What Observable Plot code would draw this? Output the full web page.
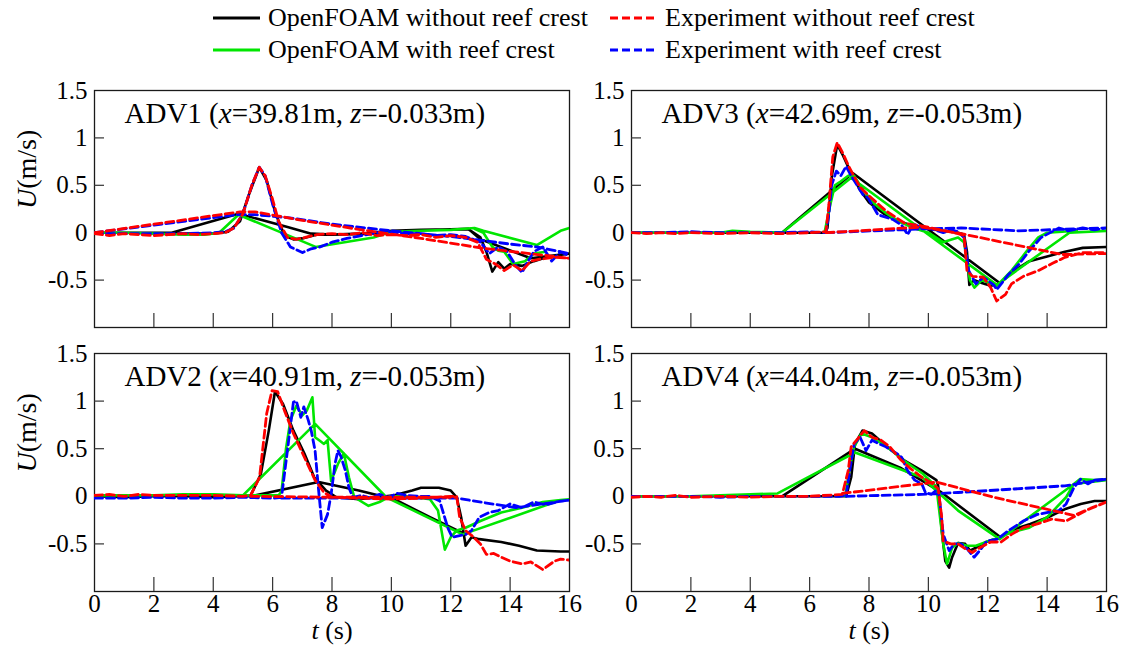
<!DOCTYPE html>
<html><head><meta charset="utf-8">
<script src="https://cdn.jsdelivr.net/npm/d3@7"></script>
<script src="https://cdn.jsdelivr.net/npm/@observablehq/plot@0.6"></script>
<style>
html,body{margin:0;padding:0;background:#fff;}
#root{position:relative;width:1126px;height:655px;overflow:hidden;background:#fff;font-family:"Liberation Serif","Times New Roman",serif;}
.panel{position:absolute;}
.leg{position:absolute;font-size:26px;line-height:1;white-space:nowrap;color:#000;transform:translateY(-50%);display:flex;align-items:center;}
.leg svg{margin-right:8px;}
</style></head><body><div id="root"></div>
<script>
// ---------- tick values ----------
const xTickValues = [0, 2, 4, 6, 8, 10, 12, 14, 16];
const xInnerTicks = [2, 4, 6, 8, 10, 12, 14];
const yTickValues = [-0.5, 0, 0.5, 1, 1.5];
const yInnerTicks = [-0.5, 0, 0.5, 1];

// ---------- legend / series ----------
const seriesKeys   = ["black", "green", "blue", "red"];
const seriesLabels = {black: "OpenFOAM without reef crest", red: "Experiment without reef crest",
                      green: "OpenFOAM with reef crest", blue: "Experiment with reef crest"};

// ---------- panel titles ----------
const panelTitles = ["ADV1 (*x*=39.81m, *z*=-0.033m)", "ADV3 (*x*=42.69m, *z*=-0.053m)",
                     "ADV2 (*x*=40.91m, *z*=-0.053m)", "ADV4 (*x*=44.04m, *z*=-0.053m)"];

// ---------- data: [t (s), U (m/s)], null = break ----------
const adv1Black = [[0,0],[2.6,0],[4.85,0.2],[6.5,0.06],[7.3,-0.01],[8,-0.02],[9.5,-0.01],[10,0.02],[11,0.03],[12,0.035],[12.6,0.04],[13,-0.07],[14.7,-0.27],[16,-0.22],null,
  [0,0],[1,0],[2,0],[3,-0.01],[4,-0.01],[4.5,0.01],[4.9,0.12],[5.2,0.4],[5.55,0.69],[5.8,0.55],[6.1,0.2],[6.4,-0.03],[6.7,-0.07],[7,-0.06],[7.5,-0.02],[8,-0.02],[9,-0.01],[10,0.02],[12,0.035],[12.6,0.035],[13.0,-0.05],[13.2,-0.2],[13.4,-0.41],[13.6,-0.31],[13.8,-0.38],[14.0,-0.33],[14.4,-0.35],[14.8,-0.3],[15.3,-0.25],[16,-0.22]];
const adv1Green = [[0,0],[1,0],[2,-0.01],[3,-0.02],[3.7,-0.02],[4.2,0],[4.85,0.19],[7.45,-0.15],[9.4,-0.05],[10,0.01],[11,0.02],[12,0.03],[12.8,0.05],[13.1,0.02],[14.9,-0.13],[15.7,0.02],[16,0.05],null,
  [12.8,0.04],[13.1,0],[13.4,-0.15],[13.6,-0.19],[13.8,-0.2],[14.1,-0.33],[14.5,-0.3],[14.8,-0.22],[15.2,-0.2]];
const adv1Blue = [[0,-0.01],[1,-0.01],[2,-0.01],[3,-0.01],[4,0],[4.4,0.01],[4.7,0.05],[5.0,0.2],[5.3,0.5],[5.55,0.69],[5.75,0.6],[6.0,0.3],[6.3,0.0],[6.6,-0.15],[7.0,-0.21],[7.3,-0.17],[7.6,-0.15],[8.0,-0.1],[8.5,-0.06],[9,-0.03],[9.5,0],[10,0.01],[10.5,-0.01],[11,-0.01],[11.5,-0.03],[12,-0.02],[12.5,-0.04],[13,-0.1],[13.3,-0.22],[13.6,-0.15],[13.9,-0.2],[14.2,-0.35],[14.4,-0.42],[14.6,-0.3],[14.8,-0.2],[15.1,-0.15],[15.4,-0.3],[15.7,-0.2],[16,-0.25],null,
  [0,0],[4.8,0.19],[5.4,0.19],[6.5,0.16],[8,0.09],[10,0.02],[12,-0.04],[14,-0.12],[14.9,-0.15],[16,-0.22]];
const adv1Red = [[0,-0.01],[0.5,-0.03],[1,-0.01],[1.5,-0.02],[2,-0.03],[2.5,-0.02],[3,-0.01],[3.5,-0.02],[4,-0.01],[4.4,0],[4.7,0.05],[5.0,0.2],[5.3,0.5],[5.55,0.69],[5.75,0.6],[6.0,0.35],[6.2,0.12],[6.5,-0.05],[6.8,-0.07],[7.1,-0.05],[7.5,-0.02],[8,-0.01],[8.5,-0.02],[9,0],[9.5,-0.03],[10,-0.02],[10.5,-0.03],[11,-0.02],[11.5,-0.05],[12,-0.03],[12.5,-0.05],[12.9,-0.1],[13.2,-0.28],[13.5,-0.33],[13.8,-0.4],[14.1,-0.34],[14.4,-0.4],[14.7,-0.3],[15,-0.28],[15.5,-0.26],[16,-0.27],null,
  [0,0],[4.9,0.22],[5.4,0.22],[7,0.13],[9,0.03],[11,-0.06],[13,-0.16],[16,-0.27]];

const adv3Black = [[0,0],[5.07,0],[7.45,0.63],[12.4,-0.53],null,
  [0,0],[6.5,0],[6.6,0.05],[6.75,0.6],[6.93,0.93],[7.1,0.83],[7.35,0.66],[7.7,0.45],[8.0,0.32],[8.5,0.2],[9,0.12],[9.5,0.07],[10,0.04],[10.5,0.02],[11,0],[11.2,-0.02],[11.3,-0.2],[11.38,-0.55],[11.55,-0.5],[11.8,-0.53],[12.1,-0.56],[12.4,-0.54],[12.8,-0.42],[13.4,-0.3],[14,-0.25],[14.6,-0.2],[15.2,-0.16],[16,-0.15]];
const adv3Green = [[0,0],[3,0],[3.4,0.02],[4,0.01],[5.07,0],[7.4,0.58],[12.3,-0.55],[14.75,0],[16,0.02],null,
  [6.5,0],[6.7,0.3],[6.85,0.5],[7.0,0.53],[7.3,0.6],[7.5,0.6],[7.8,0.45],[8.2,0.3],[8.6,0.2],[9.0,0.12],[9.5,0.05],[10,0],[10.5,-0.1],[10.7,-0.08],[11,-0.05],[11.2,-0.1],[11.4,-0.5],[11.55,-0.58],[11.8,-0.5],[12.3,-0.56],[12.8,-0.4],[13.3,-0.2],[13.7,-0.05],[14,0],[15,0.02]];
const adv3Blue = [[0,0],[1,0],[2,0.01],[3,0],[4,0],[5,0],[6,0.01],[6.55,0],[6.65,0.2],[6.74,0.5],[6.9,0.65],[7.05,0.6],[7.23,0.7],[7.4,0.6],[7.6,0.5],[7.8,0.4],[7.96,0.37],[8.3,0.19],[8.8,0.14],[9.1,0.08],[9.3,-0.02],[9.5,0.09],[9.8,0.05],[10.1,0.04],[10.5,0],[10.75,0.03],[11,0.01],[11.2,-0.05],[11.36,-0.4],[11.6,-0.54],[11.85,-0.47],[12.2,-0.55],[12.3,-0.6],[12.7,-0.44],[13.06,-0.33],[13.4,-0.19],[13.8,-0.05],[14.4,0.05],[14.7,0.02],[15.2,0.05],[15.6,0.03],[16,0.05],null,
  [6.55,0],[9.8,0.04],[11.1,0.05],[13,0.02],[16,0.05]];
const adv3Red = [[0,0],[0.5,-0.01],[1,0],[1.5,-0.01],[2,0],[3,-0.01],[4,0],[5,-0.01],[6,0],[6.55,0.01],[6.65,0.3],[6.78,0.8],[6.93,0.95],[7.1,0.85],[7.35,0.68],[7.7,0.48],[7.96,0.4],[8.57,0.23],[9.2,0.1],[9.8,0.07],[10.4,0.03],[11,-0.01],[11.2,-0.03],[11.3,-0.4],[11.48,-0.46],[11.85,-0.47],[12.1,-0.58],[12.3,-0.72],[12.6,-0.65],[12.8,-0.54],[13.2,-0.46],[13.7,-0.4],[14.2,-0.32],[14.6,-0.26],[15.2,-0.21],[16,-0.21],null,
  [6.55,0],[9.8,0.06],[11.1,-0.01],[14.5,-0.23],[16,-0.22]];

const adv2Black = [[0,0],[5.26,0],[7.55,0.15],[8.9,0.06],[10.1,-0.03],[11.3,-0.22],[12.5,-0.4],null,
  [0,0],[1,-0.01],[2,0],[3,0],[4,-0.01],[5,0],[5.26,0.01],[5.6,0.23],[5.87,0.69],[6.08,1.1],[6.35,0.97],[6.7,0.69],[7.07,0.45],[7.4,0.2],[7.8,0.06],[8.15,-0.01],[8.9,-0.03],[9.5,-0.01],[10.1,0.01],[10.7,0.06],[11.0,0.09],[11.6,0.09],[12,0.06],[12.2,-0.01],[12.35,-0.22],[12.5,-0.52],[12.7,-0.43],[12.96,-0.45],[13.7,-0.48],[14.3,-0.52],[14.9,-0.57],[15.7,-0.58],[16,-0.58]];
const adv2Green = [[0,0.01],[2,0.01],[3,0.02],[4,0.02],[5,0.01],[7.43,0.76],[9.83,-0.01],[12.4,-0.4],[15.7,-0.04],[16,-0.03],null,
  [5,0.01],[6.2,0.01],[6.3,0.05],[6.45,0.5],[6.6,0.8],[6.8,0.95],[7.0,0.85],[7.15,0.9],[7.34,1.04],[7.43,0.62],[7.6,0.58],[7.73,0.55],[7.85,0.59],[7.97,0.16],[8.2,0.34],[8.4,0.45],[8.57,0.2],[8.75,-0.01],[9.23,-0.1],[9.6,-0.06],[9.95,0],[10.5,0.0],[11.3,-0.03],[11.57,-0.15],[11.8,-0.56],[12,-0.43],[12.2,-0.36],[12.5,-0.33],[13,-0.26],[13.7,-0.17],[14.4,-0.12],[15.1,-0.06],[15.7,-0.04]];
const adv2Blue = [[0,-0.02],[1,-0.02],[2,-0.01],[3,-0.02],[4,-0.02],[5,-0.01],[6,-0.02],[6.3,-0.01],[6.47,0.41],[6.7,0.99],[6.8,1.0],[6.95,0.83],[7.05,0.94],[7.2,0.8],[7.3,0.69],[7.43,0.48],[7.55,0.06],[7.67,-0.33],[7.85,-0.19],[7.97,0.02],[8.1,0.34],[8.2,0.48],[8.3,0.42],[8.45,0.27],[8.57,0.09],[8.7,-0.01],[9,0.01],[9.3,-0.02],[9.6,0.02],[9.9,-0.01],[10.2,0.03],[10.5,0.01],[11,0],[11.3,0.0],[11.63,-0.05],[11.9,-0.33],[12.05,-0.43],[12.5,-0.4],[12.7,-0.36],[12.96,-0.22],[13.3,-0.17],[13.6,-0.15],[14,-0.08],[14.4,-0.12],[14.8,-0.06],[15.2,-0.09],[15.7,-0.05],[16,-0.04],null,
  [6.3,-0.02],[12.2,-0.02],[14.2,-0.12],[16,-0.04]];
const adv2Red = [[0,0.01],[0.5,0.02],[1,0],[1.5,0.02],[2,0.01],[3,0.01],[4,0.01],[5,0],[5.26,0.01],[5.56,0.2],[5.8,0.87],[5.98,1.11],[6.17,1.1],[6.4,0.9],[6.7,0.66],[7.07,0.41],[7.43,0.17],[7.73,0.04],[8.0,-0.01],[9,-0.02],[10,-0.03],[11,-0.02],[12,0],[12.2,0],[12.3,-0.22],[12.5,-0.36],[12.7,-0.41],[13,-0.5],[13.2,-0.61],[13.45,-0.6],[13.7,-0.64],[14,-0.68],[14.4,-0.71],[14.7,-0.69],[15.1,-0.77],[15.5,-0.68],[15.7,-0.66],[16,-0.67],null,
  [5.26,0],[8,-0.01],[12.2,-0.01]];

const adv4Black = [[0,0],[5.07,0],[7.53,0.5],[9.05,0.3],[10.4,0.05],[12.43,-0.43],null,
  [0,0],[7.23,0],[7.4,0.2],[7.53,0.55],[7.78,0.69],[8.1,0.66],[8.57,0.53],[9.17,0.38],[9.78,0.27],[10.27,0.17],[10.33,0.11],[10.45,-0.36],[10.57,-0.68],[10.7,-0.75],[10.8,-0.64],[11,-0.49],[11.24,-0.5],[11.4,-0.57],[11.6,-0.54],[11.95,-0.48],[12.45,-0.43],[12.94,-0.34],[13.43,-0.29],[14.03,-0.22],[14.64,-0.13],[15.13,-0.08],[15.6,-0.05],[16,-0.05]];
const adv4Green = [[0,0],[2,0],[4,0.02],[4.92,0.03],[7.53,0.46],[9.78,0.2],[11,-0.15],[12.4,-0.45],[14.9,0.13],[16,0.17],null,
  [7.2,0],[7.35,0.3],[7.5,0.52],[7.75,0.66],[8.1,0.62],[8.6,0.52],[9.2,0.37],[9.8,0.24],[10.27,0.1],[10.5,-0.5],[10.63,-0.71],[10.8,-0.54],[11,-0.49],[11.3,-0.52],[11.6,-0.52],[12.2,-0.45],[12.8,-0.38],[13.4,-0.33],[14,-0.22],[14.64,-0.01],[14.9,0.13],[15.1,0.18],[15.6,0.17],[16,0.18]];
const adv4Blue = [[0,0],[1,0],[2,0],[3,-0.01],[4,0],[5,0],[6,0],[7,0],[7.23,0.01],[7.35,0.27],[7.5,0.55],[7.7,0.62],[7.9,0.48],[8.1,0.59],[8.35,0.55],[8.57,0.52],[8.93,0.45],[9.1,0.41],[9.3,0.27],[9.54,0.17],[9.78,0.13],[9.9,0.04],[10.1,0.02],[10.33,0.08],[10.4,-0.1],[10.5,-0.4],[10.7,-0.57],[10.87,-0.5],[11.1,-0.5],[11.3,-0.55],[11.54,-0.64],[11.73,-0.57],[11.97,-0.47],[12.33,-0.45],[12.7,-0.36],[13.2,-0.26],[13.67,-0.19],[14.03,-0.17],[14.4,-0.15],[14.64,-0.08],[14.9,0.09],[15.13,0.18],[15.37,0.13],[15.6,0.17],[16,0.18],null,
  [7.23,0],[9.78,0.02],[11,0.04],[14.6,0.11],[16,0.18]];
const adv4Red = [[0,-0.01],[0.5,0],[1,-0.01],[1.5,0.01],[2,-0.01],[3,0],[4,-0.01],[5,0],[6,0],[7.1,0.02],[7.3,0.27],[7.4,0.52],[7.66,0.62],[7.84,0.69],[8.1,0.62],[8.4,0.59],[8.7,0.52],[9.05,0.39],[9.4,0.29],[9.78,0.2],[10.15,0.13],[10.33,0.08],[10.45,-0.22],[10.5,-0.47],[10.75,-0.5],[11,-0.5],[11.24,-0.55],[11.48,-0.59],[11.73,-0.54],[12.1,-0.48],[12.45,-0.48],[12.8,-0.4],[13.2,-0.33],[13.67,-0.29],[14.15,-0.24],[14.64,-0.26],[15,-0.2],[15.5,-0.12],[16,-0.06],null,
  [7.1,0.03],[10.27,0.15],[12.2,-0.01],[14.9,-0.2],[16,-0.06]];

// ---------- styling ----------
const seriesStyle = {
  black: {stroke: "#000000", dash: null},
  green: {stroke: "#00e600", dash: null},
  blue:  {stroke: "#0000ff", dash: "8,4"},
  red:   {stroke: "#ff0000", dash: "8,4"}
};

const panels = [
  {title: panelTitles[0], data: {black: adv1Black, green: adv1Green, blue: adv1Blue, red: adv1Red}, left: 0,   top: 70,  w: 580, h: 270, ml: 94, mr: 11, mt: 20, mb: 13, isLeft: true,  isBottom: false},
  {title: panelTitles[1], data: {black: adv3Black, green: adv3Green, blue: adv3Blue, red: adv3Red}, left: 563, top: 70,  w: 563, h: 270, ml: 68, mr: 20, mt: 20, mb: 13, isLeft: false, isBottom: false},
  {title: panelTitles[2], data: {black: adv2Black, green: adv2Green, blue: adv2Blue, red: adv2Red}, left: 0,   top: 340, w: 580, h: 315, ml: 94, mr: 11, mt: 13, mb: 64, isLeft: true,  isBottom: true},
  {title: panelTitles[3], data: {black: adv4Black, green: adv4Green, blue: adv4Blue, red: adv4Red}, left: 563, top: 340, w: 563, h: 315, ml: 68, mr: 20, mt: 13, mb: 64, isLeft: false, isBottom: true}
];

const toRows = arr => arr.map(p => p ? {t: p[0], u: p[1]} : {t: NaN, u: NaN});

function italicize(svg) {
  const ns = "http://www.w3.org/2000/svg";
  d3.select(svg).selectAll("text").each(function () {
    const txt = this.textContent;
    if (!txt.includes("*")) return;
    const parts = txt.split("*");
    while (this.firstChild) this.removeChild(this.firstChild);
    parts.forEach((p, i) => {
      if (!p) return;
      const ts = document.createElementNS(ns, "tspan");
      ts.textContent = p;
      if (i % 2) ts.setAttribute("font-style", "italic");
      this.appendChild(ts);
    });
  });
}

const root = document.getElementById("root");

panels.forEach(cfg => {
  const marks = [
    Plot.frame({stroke: "#1a1a1a", strokeWidth: 1.3}),
    Plot.axisX({ticks: xInnerTicks, tickSize: -14, tickFormat: () => "", strokeWidth: 1.2, stroke: "#333"}),
    Plot.axisY({ticks: yInnerTicks, tickSize: -10, tickFormat: () => "", strokeWidth: 1.2, stroke: "#333"}),
    Plot.axisY({ticks: yTickValues, tickSize: 0, tickPadding: 7, tickFormat: d => String(d), fontSize: 25})
  ];
  if (cfg.isBottom) {
    marks.push(Plot.axisX({ticks: xTickValues, tickSize: 0, tickPadding: 3, tickFormat: d => String(d), fontSize: 25}));
    marks.push(Plot.text(["*t* (s)"], {frameAnchor: "bottom", dy: 47, fontSize: 26}));
  }
  if (cfg.isLeft) {
    marks.push(Plot.text(["*U*(m/s)"], {frameAnchor: "left", dx: -67, rotate: -90, fontSize: 28}));
  }
  seriesKeys.forEach(k => {
    const st = seriesStyle[k];
    marks.push(Plot.line(toRows(cfg.data[k]), {
      x: "t", y: "u", stroke: st.stroke,
      strokeWidth: st.dash ? 2.8 : 2.6,
      strokeDasharray: st.dash, clip: true
    }));
  });
  marks.push(Plot.text([cfg.title], {frameAnchor: "top-left", dx: 30, dy: 23, textAnchor: "start", lineAnchor: "middle", fontSize: 29}));

  const chart = Plot.plot({
    width: cfg.w, height: cfg.h,
    marginLeft: cfg.ml, marginRight: cfg.mr, marginTop: cfg.mt, marginBottom: cfg.mb,
    x: {domain: [0, 16], label: null},
    y: {domain: [-1, 1.5], label: null},
    style: {fontFamily: '"Liberation Serif", "Times New Roman", serif', fontSize: "25px", color: "#000", background: "transparent", overflow: "visible"},
    marks
  });
  italicize(chart);
  const holder = document.createElement("div");
  holder.className = "panel";
  holder.style.left = cfg.left + "px";
  holder.style.top = cfg.top + "px";
  holder.appendChild(chart);
  root.appendChild(holder);
});

// ---------- legend ----------
const legendLayout = [
  {key: "black", x: 213, y: 18}, {key: "red", x: 610, y: 18},
  {key: "green", x: 213, y: 50}, {key: "blue", x: 610, y: 50}
];
legendLayout.forEach(item => {
  const st = seriesStyle[item.key];
  const div = document.createElement("div");
  div.className = "leg";
  div.style.left = item.x + "px";
  div.style.top = item.y + "px";
  div.innerHTML = `<svg width="47" height="8"><line x1="0" y1="4" x2="47" y2="4" stroke="${st.stroke}" stroke-width="3" ${st.dash ? `stroke-dasharray="${st.dash}"` : ""}/></svg><span>${seriesLabels[item.key]}</span>`;
  root.appendChild(div);
});
</script></body></html>
